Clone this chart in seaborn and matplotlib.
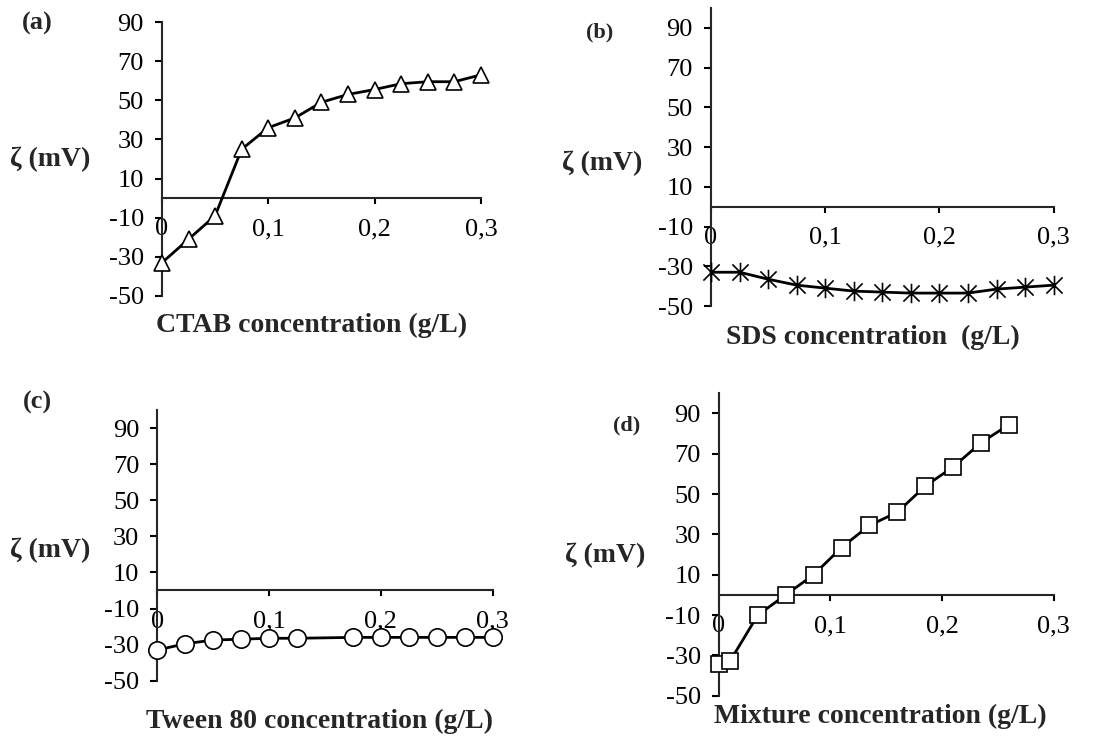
import matplotlib
matplotlib.use("Agg")
import matplotlib.pyplot as plt
import seaborn as sns
import numpy as np
import pandas as pd
from matplotlib.path import Path

# ---------------- data ----------------
ctab_x = [0, 0.025, 0.05, 0.075, 0.1, 0.125, 0.15, 0.175, 0.2, 0.225, 0.25, 0.275, 0.3]
ctab_y = [-33, -21, -9, 25, 36, 41, 49, 53, 55.5, 58.5, 59.5, 59.5, 63]

sds_x = [0, 0.025, 0.05, 0.075, 0.1, 0.125, 0.15, 0.175, 0.2, 0.225, 0.25, 0.275, 0.3]
sds_y = [-33, -33, -36.5, -39.5, -41, -42.5, -43, -43.5, -43.5, -43.5, -41.5, -40.5, -39.5]

tween_x = [0, 0.025, 0.05, 0.075, 0.1, 0.125, 0.175, 0.2, 0.225, 0.25, 0.275, 0.3]
tween_y = [-33, -29.5, -27.5, -27, -26.5, -26.5, -26, -26, -26, -26, -26, -26]

mix_x = [0, 0.01, 0.035, 0.06, 0.085, 0.11, 0.135, 0.16, 0.185, 0.21, 0.235, 0.26]
mix_y = [-34.5, -33, -10, 0, 10, 23.5, 34.5, 41, 54, 63.5, 75.5, 84.5]

x_ticks = [0, 0.1, 0.2, 0.3]
x_tick_labels = ["0", "0,1", "0,2", "0,3"]
y_ticks = [-50, -30, -10, 10, 30, 50, 70, 90]
y_tick_labels = ["-50", "-30", "-10", "10", "30", "50", "70", "90"]

panel_letters = ["(a)", "(b)", "(c)", "(d)"]
x_titles = ["CTAB concentration (g/L)", "SDS concentration  (g/L)",
            "Tween 80 concentration (g/L)", "Mixture concentration (g/L)"]
y_title = "ζ (mV)"

# ---------------- style ----------------
sns.set_style("ticks")
plt.rcParams["font.family"] = ["Liberation Serif", "DejaVu Serif"]
plt.rcParams["axes.linewidth"] = 1.5

star = Path([(-0.5, -0.5), (0.5, 0.5), (-0.5, 0.5), (0.5, -0.5), (0, -0.6), (0, 0.6)],
            [Path.MOVETO, Path.LINETO, Path.MOVETO, Path.LINETO, Path.MOVETO, Path.LINETO])

fig = plt.figure(figsize=(11.04, 7.37), dpi=100)

panels = [
    dict(rect=[0.1467, 0.5984, 0.2889, 0.3717], x=ctab_x, y=ctab_y, ymax=90,
         marker="^", ms=12, mfc="white", ylab=(-0.226, 0.50), xlab=(0.47, -0.106)),
    dict(rect=[0.6440, 0.5848, 0.3104, 0.4043], x=sds_x, y=sds_y, ymax=100,
         marker=star, ms=14, mfc="none", ylab=(-0.201, 0.48), xlab=(0.471, -0.104)),
    dict(rect=[0.1425, 0.0764, 0.3038, 0.3673], x=tween_x, y=tween_y, ymax=100,
         marker="o", ms=12.5, mfc="white", ylab=(-0.201, 0.483), xlab=(0.485, -0.151)),
    dict(rect=[0.6510, 0.0560, 0.3034, 0.4103], x=mix_x, y=mix_y, ymax=100,
         marker="s", ms=11.5, mfc="white", ylab=(-0.22, 0.465), xlab=(0.481, -0.069)),
]

for i, p in enumerate(panels):
    ax = fig.add_axes(p["rect"])
    df = pd.DataFrame({"x": p["x"], "y": p["y"]})
    sns.lineplot(data=df, x="x", y="y", ax=ax, color="black", linewidth=2.0,
                 marker=p["marker"], markersize=p["ms"], markerfacecolor=p["mfc"],
                 markeredgecolor="black", markeredgewidth=1.2, clip_on=False,
                 zorder=3, sort=False)
    ax.set_xlim(0, 0.3)
    ax.set_ylim(-50, p["ymax"])
    ax.spines["top"].set_visible(False)
    ax.spines["right"].set_visible(False)
    ax.spines["bottom"].set_position(("data", 0))
    ax.set_xticks(x_ticks)
    ax.set_xticklabels(x_tick_labels)
    ax.set_yticks(y_ticks)
    ax.set_yticklabels(y_tick_labels)
    ax.tick_params(axis="x", direction="out", length=4.5, width=1.5, pad=10,
                   labelsize=19, colors="black")
    ax.tick_params(axis="y", direction="out", length=5, width=1.5, pad=8,
                   labelsize=19, colors="black")
    ax.set_xlabel("")
    ax.set_ylabel("")
    ax.text(p["ylab"][0], p["ylab"][1], y_title, transform=ax.transAxes,
            ha="right", va="center", fontsize=20, fontweight="bold")
    ax.text(p["xlab"][0], p["xlab"][1], x_titles[i], transform=ax.transAxes,
            ha="center", va="center", fontsize=20, fontweight="bold")

letter_pos = [(37.5, 23, 19), (599.5, 32, 16), (37.5, 402, 19), (627, 425, 16)]
for t, (px, py, fs) in zip(panel_letters, letter_pos):
    fig.text(px / 1104, 1 - py / 737, t, ha="center", va="center",
             fontsize=fs, fontweight="bold")

fig.savefig("out.png", dpi=100)
